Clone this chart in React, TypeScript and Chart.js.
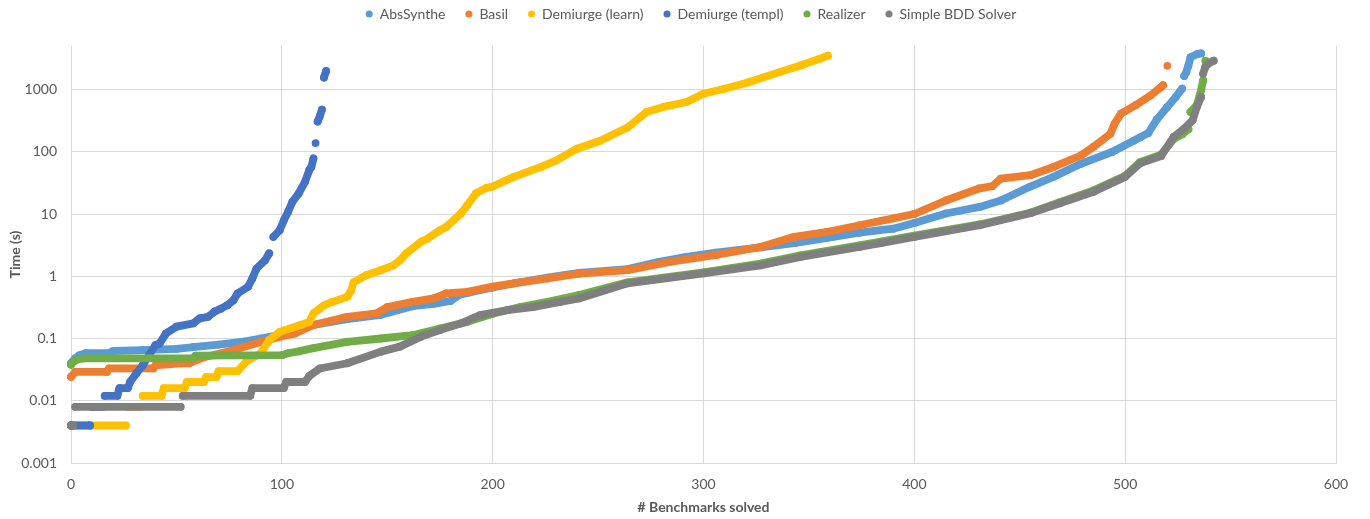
import React, { useEffect, useRef } from 'react';
import { Chart, registerables } from 'chart.js';

Chart.register(...registerables);

// ---------- data (rank = # benchmarks solved, time in seconds) ----------
const seriesNames = ['AbsSynthe', 'Basil', 'Demiurge (learn)', 'Demiurge (templ)', 'Realizer', 'Simple BDD Solver'];
const seriesColors = ['#5B9BD5', '#ED7D31', '#FFC000', '#4472C4', '#70AD47', '#7F7F7F'];

const absSynthe: [number, number][] = [
  [0, 0.04], [2, 0.048], [4, 0.054], [7, 0.058], [18, 0.058], [20, 0.063], [34, 0.065], [50, 0.068],
  [58, 0.073], [70, 0.08], [82, 0.089], [90, 0.1], [99, 0.115], [115, 0.165], [131, 0.205], [147, 0.24],
  [162, 0.33], [172, 0.36], [180, 0.4], [184, 0.5], [188, 0.54], [200, 0.66], [213, 0.8], [226, 0.95],
  [241, 1.13], [264, 1.3], [279, 1.7], [292, 2.05], [306, 2.4], [327, 2.9], [343, 3.4], [358, 4.1],
  [374, 5.0], [390, 5.8], [400, 7.2], [415, 10.2], [431, 13], [441, 16.5], [455, 27.6], [466, 39.5],
  [479, 64], [494, 100], [504, 150], [507, 170], [511, 200], [515, 330], [520, 525], [524, 760],
  [527, 1030], [528, 1650], [529, 1900], [530, 2430], [531, 3300], [534, 3700], [536, 3800],
];

const basil: [number, number][] = [
  [0, 0.0242], [2, 0.029], [17, 0.029], [18, 0.033], [39, 0.033], [40, 0.037], [52, 0.04], [56, 0.04],
  [63, 0.05], [74, 0.061], [90, 0.088], [99, 0.107], [106, 0.12], [115, 0.165], [131, 0.223], [145, 0.253],
  [150, 0.32], [162, 0.387], [172, 0.44], [178, 0.53], [188, 0.56], [200, 0.68], [210, 0.77], [226, 0.92],
  [241, 1.1], [264, 1.25], [284, 1.7], [306, 2.2], [327, 2.95], [343, 4.3], [358, 5.1], [374, 6.6],
  [390, 8.5], [400, 10], [415, 16.5], [431, 25.9], [437, 28], [441, 37], [455, 42], [466, 57],
  [479, 87], [485, 120], [493, 195], [495, 284], [498, 410], [505, 560], [512, 800], [517, 1090],
  [518, 1170], [520, 2400],
];

const demiurgeLearn: [number, number][] = [
  [0, 0.004], [26, 0.004], [27, 0.008], [33, 0.008], [34, 0.012], [43, 0.012], [44, 0.016], [54, 0.016],
  [55, 0.02], [63, 0.02], [64, 0.024], [69, 0.024], [70, 0.03], [79, 0.03], [83, 0.042], [90, 0.058],
  [94, 0.094], [99, 0.128], [109, 0.165], [113, 0.185], [115, 0.253], [120, 0.34], [124, 0.387],
  [131, 0.467], [133, 0.6], [134, 0.8], [140, 1.04], [147, 1.25], [153, 1.5], [156, 1.8], [159, 2.33],
  [166, 3.57], [169, 4.0], [175, 5.5], [178, 6.2], [185, 10.2], [188, 13.9], [192, 21.4], [197, 26.3],
  [200, 27.6], [210, 39.5], [223, 57], [230, 72], [240, 112], [251, 150], [264, 245], [273, 436],
  [281, 525], [292, 630], [300, 855], [310, 1030], [321, 1300], [336, 1900], [346, 2430], [355, 3100],
  [359, 3500],
];

const demiurgeTempl: [number, number][] = [
  [0, 0.004], [9, 0.004], [10, 0.008], [15, 0.008], [16, 0.012], [22, 0.012], [23, 0.016], [27, 0.016],
  [28, 0.02], [31, 0.0275], [34, 0.037], [37, 0.054], [40, 0.078], [42, 0.083], [45, 0.12], [50, 0.155],
  [58, 0.175], [61, 0.21], [65, 0.223], [68, 0.27], [71, 0.3], [74, 0.34], [77, 0.41], [79, 0.53],
  [84, 0.68], [86, 0.92], [88, 1.33], [92, 1.8], [94, 2.33], [96, 4.3], [99, 5.5], [101, 8.0],
  [103, 10.9], [105, 15.7], [108, 21.4], [111, 32.9], [113, 50.6], [114, 57], [115, 78], [116, 138],
  [117, 306], [118, 370], [119, 475], [120, 1560], [121, 1990],
];

const realizer: [number, number][] = [
  [0, 0.038], [1, 0.042], [3, 0.046], [6, 0.048], [58, 0.048], [59, 0.053], [100, 0.054], [103, 0.058],
  [108, 0.062], [115, 0.07], [131, 0.088], [147, 0.1], [162, 0.113], [175, 0.145], [188, 0.185],
  [200, 0.25], [213, 0.32], [226, 0.387], [241, 0.5], [264, 0.8], [300, 1.15], [327, 1.6], [346, 2.16],
  [374, 3.14], [384, 3.6], [400, 4.5], [431, 6.8], [455, 10.5], [469, 15.5], [485, 24], [500, 41],
  [507, 68], [517, 90], [523, 160], [527, 190], [530, 230], [531, 436], [534, 560], [536, 973],
  [537, 1400], [538, 2900],
];

const simpleBdd: [number, number][] = [
  [0, 0.004], [1, 0.004], [2, 0.008], [52, 0.008], [53, 0.012], [85, 0.012], [86, 0.016], [101, 0.016],
  [102, 0.02], [111, 0.02], [113, 0.025], [118, 0.033], [131, 0.04], [147, 0.0615], [156, 0.074],
  [166, 0.107], [175, 0.137], [185, 0.175], [194, 0.237], [207, 0.286], [219, 0.32], [232, 0.387],
  [241, 0.44], [264, 0.77], [300, 1.11], [327, 1.49], [346, 2.05], [374, 2.95], [384, 3.4], [400, 4.3],
  [431, 6.6], [455, 10.3], [469, 14.9], [485, 22.7], [500, 39.5], [507, 65], [517, 85], [523, 173],
  [528, 236], [532, 320], [534, 525], [536, 760], [537, 1800], [538, 2300], [540, 2700], [542, 2900],
];

const seriesData = [absSynthe, basil, demiurgeLearn, demiurgeTempl, realizer, simpleBdd];

const xTickValues = [0, 100, 200, 300, 400, 500, 600];
const yTickValues = [0.001, 0.01, 0.1, 1, 10, 100, 1000];
const yTickLabels = ['0.001', '0.01', '0.1', '1', '10', '100', '1000'];

// ---------- styling ----------
const FONT = 'Lato, "Open Sans", sans-serif';
const TEXT = '#595959';
const GRID = '#D9D9D9';
const R = 3.9;
const LEGEND_HEIGHT = 46;
const LEGEND_DX = 23;
const LEGEND_DY = -13;

const legendTweak = {
  id: 'legendTweak',
  beforeLayout(chart: any) {
    const lg = chart.legend;
    if (!lg || lg.__tweaked) return;
    lg.__tweaked = true;
    const fit = lg.fit;
    lg.fit = function () {
      fit.call(this);
      this.height = LEGEND_HEIGHT;
    };
    const draw = lg.draw;
    lg.draw = function (...args: any[]) {
      const c = this.ctx;
      c.save();
      c.translate(LEGEND_DX, LEGEND_DY);
      draw.apply(this, args);
      c.restore();
    };
  },
};

export default function App() {
  const ref = useRef<HTMLCanvasElement | null>(null);

  useEffect(() => {
    if (!ref.current) return;
    const n = seriesNames.length;
    const chart = new Chart(ref.current, {
      type: 'line',
      data: {
        datasets: seriesNames.map((name, i) => ({
          label: name,
          data: seriesData[i].map(([x, y]) => ({ x, y })),
          borderColor: seriesColors[i],
          backgroundColor: seriesColors[i],
          pointBackgroundColor: seriesColors[i],
          pointBorderWidth: 0,
          pointRadius: R,
          pointHoverRadius: R,
          borderWidth: 2 * R,
          borderCapStyle: 'round',
          borderJoinStyle: 'round',
          tension: 0,
          fill: false,
          clip: 8,
          order: n - 1 - i,
          segment: {
            borderColor: (ctx: any) => {
              const dx = Math.abs(ctx.p1.x - ctx.p0.x);
              const dy = Math.abs(ctx.p1.y - ctx.p0.y);
              return dy > 2.5 * dx + 5 ? 'rgba(0,0,0,0)' : undefined;
            },
          },
        })),
      },
      options: {
        animation: false,
        responsive: false,
        devicePixelRatio: 1,
        parsing: false as any,
        normalized: true,
        layout: { padding: { left: 0, right: 34, top: 0, bottom: 0 } },
        plugins: {
          tooltip: { enabled: false },
          legend: {
            display: true,
            position: 'top',
            labels: {
              usePointStyle: true,
              pointStyle: 'circle',
              boxWidth: 7,
              boxHeight: 5,
              padding: 20,
              color: TEXT,
              font: { family: FONT, size: 14 },
              sort: (a: any, b: any) => a.datasetIndex - b.datasetIndex,
              generateLabels: (chart: any) => {
                const items = Chart.defaults.plugins.legend.labels.generateLabels(chart);
                return items.map((it: any) => ({
                  ...it,
                  fillStyle: seriesColors[it.datasetIndex],
                  strokeStyle: seriesColors[it.datasetIndex],
                  lineWidth: 0,
                  pointStyle: 'circle',
                }));
              },
            },
          },
        },
        scales: {
          x: {
            type: 'linear',
            min: 0,
            max: 600,
            afterBuildTicks: (s: any) => {
              s.ticks = xTickValues.map((v) => ({ value: v }));
            },
            afterFit: (s: any) => {
              s.height = 56;
            },
            grid: { color: GRID, drawTicks: false, lineWidth: 1 },
            border: { color: GRID },
            ticks: { color: TEXT, font: { family: FONT, size: 14 }, padding: 13, maxRotation: 0 },
            title: {
              display: true,
              text: '# Benchmarks solved',
              color: TEXT,
              font: { family: FONT, size: 14, weight: 'bold' },
              padding: { top: 0, bottom: 3 },
            },
          },
          y: {
            type: 'logarithmic',
            min: 0.001,
            max: 5000,
            afterBuildTicks: (s: any) => {
              s.ticks = yTickValues.map((v) => ({ value: v }));
            },
            afterFit: (s: any) => {
              s.width = 71;
            },
            grid: { color: GRID, drawTicks: false, lineWidth: 1 },
            border: { color: GRID },
            ticks: {
              color: TEXT,
              font: { family: FONT, size: 14 },
              padding: 14,
              callback: (v: any) => {
                const i = yTickValues.findIndex((t) => Math.abs(t - Number(v)) / t < 1e-6);
                return i >= 0 ? yTickLabels[i] : '';
              },
            },
            title: {
              display: true,
              text: 'Time (s)',
              color: TEXT,
              font: { family: FONT, size: 14, weight: 'bold' },
              padding: { top: 7, bottom: 0 },
            },
          },
        },
      } as any,
      plugins: [legendTweak],
    });
    return () => chart.destroy();
  }, []);

  return (
    <div style={{ position: 'fixed', left: 0, top: 0, width: 1370, height: 519, background: '#fff' }}>
      <canvas ref={ref} width={1370} height={519} style={{ display: 'block', width: 1370, height: 519 }} />
    </div>
  );
}
